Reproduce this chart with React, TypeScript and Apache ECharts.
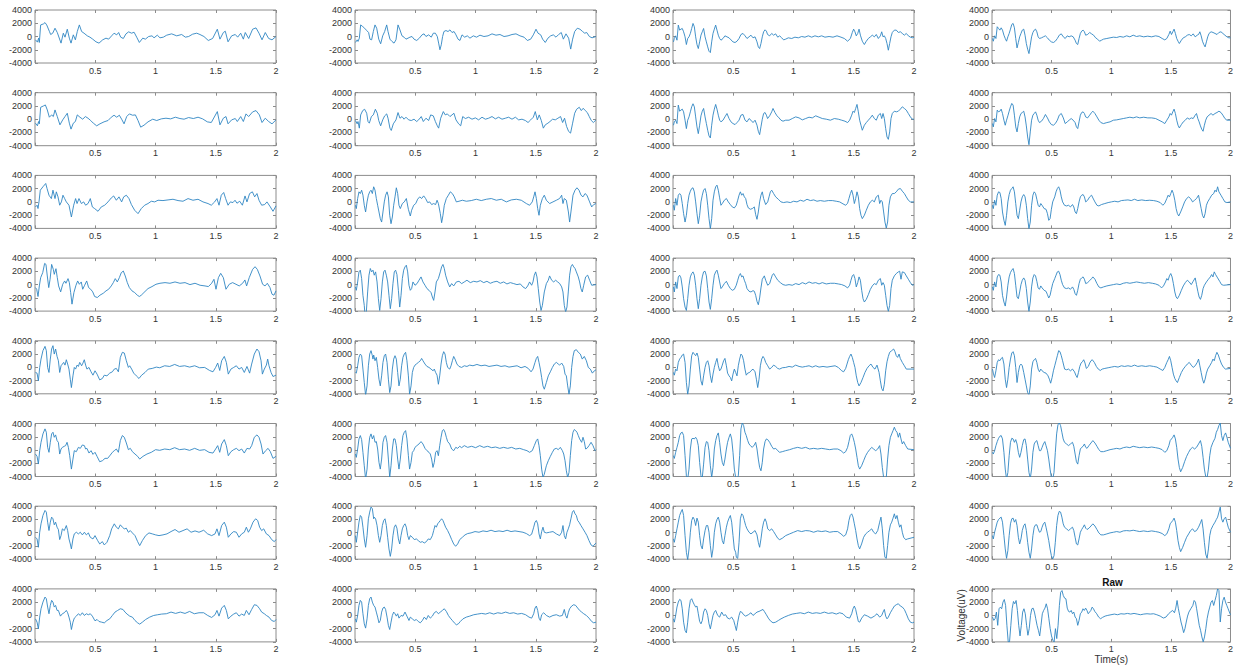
import React, { useEffect, useRef } from "react";
import * as echarts from "echarts";

// Time axis (s) and voltage axis (uV) settings shared by all 32 channels
const timeRange = [0, 2];
const timeStep = 0.5;
const voltRange = [-4000, 4000];
const voltStep = 2000;

// Channels in row-major order (8 rows x 4 columns); each point is [time s, voltage uV]
const sig01 = [[0.004,-500],[0.02,-850],[0.03,-250],[0.036,-900],[0.047,1750],[0.07,1900],[0.083,2100],[0.097,1750],[0.12,750],[0.13,300],[0.147,500],[0.166,1250],[0.185,600],[0.216,-1000],[0.235,500],[0.249,-100],[0.268,1100],[0.285,-250],[0.299,-1000],[0.318,250],[0.335,-500],[0.351,750],[0.368,1750],[0.387,750],[0.407,500],[0.434,100],[0.456,-100],[0.479,-400],[0.506,-800],[0.531,-1000],[0.562,-500],[0.589,-250],[0.611,-400],[0.636,100],[0.656,500],[0.678,250],[0.694,600],[0.711,-100],[0.733,-300],[0.755,400],[0.777,700],[0.802,500],[0.822,650],[0.844,-100],[0.866,-900],[0.894,-250],[0.916,-400],[0.943,0],[0.971,100],[0.988,-200],[1.015,200],[1.037,-200],[1.065,-100],[1.093,200],[1.134,400],[1.176,100],[1.217,300],[1.248,-100],[1.275,0],[1.308,350],[1.342,500],[1.369,300],[1.402,0],[1.438,-600],[1.474,-300],[1.513,1100],[1.535,-400],[1.563,600],[1.579,800],[1.602,-800],[1.632,100],[1.662,300],[1.682,-100],[1.707,500],[1.729,-400],[1.745,600],[1.773,-300],[1.806,1100],[1.834,1300],[1.859,500],[1.884,-500],[1.911,600],[1.939,-300],[1.967,-500],[2.0,0]];
const sig02 = [[0.004,-900],[0.018,-500],[0.025,-750],[0.036,-250],[0.047,1750],[0.064,1500],[0.08,1250],[0.097,900],[0.113,600],[0.124,-400],[0.138,-500],[0.152,750],[0.166,1750],[0.18,1250],[0.197,-400],[0.213,-1100],[0.23,100],[0.246,750],[0.263,1750],[0.274,750],[0.29,-400],[0.307,-750],[0.324,-1000],[0.34,-500],[0.357,1750],[0.373,1000],[0.39,100],[0.407,-100],[0.423,-400],[0.44,-250],[0.456,-100],[0.473,0],[0.49,-400],[0.512,-600],[0.534,-250],[0.556,250],[0.573,400],[0.589,0],[0.611,250],[0.633,-100],[0.65,500],[0.667,500],[0.683,0],[0.694,-1000],[0.705,-2000],[0.716,-1250],[0.727,0],[0.738,750],[0.755,900],[0.772,750],[0.788,1000],[0.805,600],[0.822,750],[0.838,250],[0.855,-400],[0.871,-600],[0.888,250],[0.91,-100],[0.932,100],[0.954,-250],[0.982,100],[1.009,-100],[1.037,200],[1.07,0],[1.104,100],[1.137,400],[1.17,200],[1.203,300],[1.237,0],[1.27,100],[1.303,300],[1.336,400],[1.369,100],[1.403,-100],[1.43,-600],[1.458,-400],[1.48,250],[1.502,1100],[1.519,500],[1.541,250],[1.557,-400],[1.579,-900],[1.601,-250],[1.624,100],[1.646,250],[1.668,-100],[1.69,300],[1.712,600],[1.729,-400],[1.751,400],[1.773,-250],[1.79,-1900],[1.806,-400],[1.823,750],[1.845,1250],[1.867,1100],[1.889,750],[1.906,500],[1.923,600],[1.945,0],[1.967,-200],[2.0,0]];
const sig03 = [[0.004,-810],[0.011,-300],[0.022,100],[0.033,-560],[0.044,1720],[0.055,960],[0.066,1110],[0.077,1210],[0.088,710],[0.1,-50],[0.111,-1210],[0.122,-300],[0.133,-50],[0.144,460],[0.155,1210],[0.166,1970],[0.177,1470],[0.188,-50],[0.199,-1210],[0.21,-1820],[0.221,-810],[0.232,200],[0.243,710],[0.254,1210],[0.266,-50],[0.277,-810],[0.288,-1570],[0.299,-2230],[0.31,-2430],[0.321,-810],[0.332,460],[0.343,1110],[0.354,1720],[0.365,960],[0.376,200],[0.387,-300],[0.398,-560],[0.415,-300],[0.431,100],[0.448,-50],[0.465,-200],[0.481,-510],[0.498,-810],[0.515,-910],[0.531,-710],[0.548,-300],[0.564,300],[0.581,460],[0.598,100],[0.614,-300],[0.631,-50],[0.647,200],[0.664,-200],[0.681,-50],[0.697,-810],[0.708,-1570],[0.719,-1820],[0.73,-1060],[0.741,-50],[0.752,710],[0.764,1010],[0.775,810],[0.785,300],[0.802,100],[0.819,460],[0.835,200],[0.852,400],[0.869,-100],[0.885,100],[0.902,-200],[0.918,-510],[0.935,-400],[0.957,-200],[0.985,-300],[1.012,-100],[1.04,-200],[1.068,0],[1.095,-100],[1.123,100],[1.151,-100],[1.178,100],[1.206,-50],[1.234,100],[1.261,-100],[1.295,0],[1.328,-100],[1.361,100],[1.394,-100],[1.422,-300],[1.449,-710],[1.472,-300],[1.488,610],[1.499,1110],[1.51,710],[1.521,100],[1.533,460],[1.544,1110],[1.555,200],[1.571,-710],[1.588,-1210],[1.604,-710],[1.621,-300],[1.638,-50],[1.654,200],[1.671,-50],[1.687,300],[1.704,-300],[1.721,100],[1.732,710],[1.743,-50],[1.754,100],[1.765,-300],[1.776,-1060],[1.787,-2070],[1.798,-1060],[1.809,-50],[1.82,610],[1.837,960],[1.853,960],[1.87,610],[1.887,710],[1.903,460],[1.92,200],[1.936,460],[1.953,100],[1.97,-100],[1.986,-200],[2.0,-100]];
const sig04 = [[0.004,-300],[0.011,-710],[0.022,100],[0.033,-300],[0.044,1470],[0.055,1210],[0.066,960],[0.077,1310],[0.088,960],[0.1,200],[0.111,-300],[0.122,-710],[0.133,-50],[0.144,460],[0.155,1110],[0.166,1820],[0.177,1970],[0.188,1310],[0.199,-300],[0.21,-1720],[0.221,-910],[0.232,-50],[0.243,460],[0.254,960],[0.266,1110],[0.277,200],[0.288,-1060],[0.299,-1920],[0.31,-2580],[0.321,-1320],[0.332,-50],[0.343,610],[0.354,960],[0.365,1110],[0.376,710],[0.387,-50],[0.398,-300],[0.415,-200],[0.431,-50],[0.448,100],[0.465,-200],[0.481,-560],[0.498,-810],[0.515,-910],[0.531,-710],[0.548,-300],[0.564,200],[0.581,400],[0.598,-50],[0.614,-300],[0.631,100],[0.647,-50],[0.664,100],[0.681,-50],[0.697,-560],[0.708,-1060],[0.719,-1210],[0.73,-300],[0.741,460],[0.752,810],[0.764,960],[0.775,710],[0.785,200],[0.802,300],[0.819,610],[0.835,400],[0.852,200],[0.869,-200],[0.885,-400],[0.902,-710],[0.918,-560],[0.935,-400],[0.963,-300],[0.99,-200],[1.018,-100],[1.046,-150],[1.073,0],[1.101,-100],[1.129,100],[1.156,-50],[1.184,200],[1.212,0],[1.239,100],[1.272,-50],[1.306,50],[1.339,-50],[1.372,100],[1.4,0],[1.427,-300],[1.449,-510],[1.466,-300],[1.483,300],[1.494,810],[1.505,300],[1.516,710],[1.527,1110],[1.538,460],[1.549,-300],[1.56,-710],[1.571,-1060],[1.588,-560],[1.604,-200],[1.621,-50],[1.638,200],[1.654,300],[1.671,100],[1.687,400],[1.704,-50],[1.721,200],[1.732,300],[1.743,710],[1.754,100],[1.765,-710],[1.776,-1210],[1.787,-1570],[1.798,-810],[1.809,-50],[1.82,460],[1.837,710],[1.853,610],[1.87,460],[1.887,300],[1.903,610],[1.92,710],[1.936,460],[1.953,200],[1.97,-50],[1.986,-200],[2.0,-200]];
const sig05 = [[0.004,-600],[0.02,-1000],[0.03,-350],[0.036,-700],[0.047,1800],[0.07,2000],[0.086,2150],[0.102,1400],[0.119,300],[0.138,650],[0.152,400],[0.166,1400],[0.185,400],[0.207,-850],[0.23,-100],[0.249,400],[0.268,900],[0.285,-600],[0.299,-1500],[0.318,-600],[0.335,-350],[0.351,650],[0.373,300],[0.396,0],[0.418,400],[0.44,150],[0.462,-200],[0.484,-600],[0.512,-1000],[0.539,-700],[0.573,-400],[0.606,-200],[0.633,300],[0.656,600],[0.678,300],[0.7,600],[0.722,-100],[0.739,-700],[0.761,400],[0.783,800],[0.81,600],[0.833,650],[0.855,-200],[0.877,-1200],[0.905,-900],[0.938,-400],[0.977,0],[1.01,-200],[1.048,50],[1.087,150],[1.126,50],[1.165,300],[1.203,100],[1.237,0],[1.275,250],[1.314,100],[1.353,300],[1.391,50],[1.43,-400],[1.463,-500],[1.513,1150],[1.535,-850],[1.563,150],[1.585,400],[1.602,-700],[1.632,-100],[1.662,100],[1.679,-350],[1.707,400],[1.729,-350],[1.751,800],[1.773,400],[1.806,1100],[1.834,1300],[1.862,650],[1.884,-500],[1.911,150],[1.939,-350],[1.967,-700],[2.0,-100]];
const sig06 = [[0.004,-200],[0.018,-700],[0.025,-350],[0.036,-1350],[0.047,650],[0.064,1300],[0.08,1500],[0.097,900],[0.108,-350],[0.119,-600],[0.136,400],[0.152,650],[0.169,1500],[0.185,900],[0.197,-200],[0.213,-1000],[0.23,-100],[0.246,500],[0.263,800],[0.274,150],[0.29,-1350],[0.301,-1700],[0.318,-700],[0.34,-100],[0.357,1000],[0.373,150],[0.39,400],[0.407,0],[0.423,300],[0.445,-100],[0.467,-200],[0.49,0],[0.512,-350],[0.528,-100],[0.55,400],[0.567,-350],[0.589,150],[0.611,-200],[0.628,650],[0.65,500],[0.667,-350],[0.683,-1000],[0.694,-1350],[0.711,150],[0.733,1150],[0.749,650],[0.766,800],[0.788,400],[0.805,650],[0.821,900],[0.838,-100],[0.86,-700],[0.877,-1000],[0.894,400],[0.916,100],[0.943,300],[0.971,0],[0.999,200],[1.026,-100],[1.054,300],[1.082,0],[1.109,150],[1.137,400],[1.165,50],[1.192,300],[1.22,0],[1.248,150],[1.275,300],[1.303,0],[1.331,300],[1.358,-100],[1.386,0],[1.414,-200],[1.436,-500],[1.458,-100],[1.48,300],[1.496,1150],[1.513,-100],[1.529,650],[1.546,-200],[1.563,-1350],[1.579,-850],[1.601,-600],[1.618,-350],[1.64,0],[1.662,-100],[1.684,150],[1.706,400],[1.723,-500],[1.739,150],[1.756,-1100],[1.773,-1850],[1.789,-2100],[1.806,-600],[1.823,900],[1.839,1500],[1.861,1800],[1.878,1300],[1.894,1650],[1.911,1300],[1.928,1000],[1.944,400],[1.961,-200],[1.978,-500],[2.0,-100]];
const sig07 = [[0.004,-910],[0.011,-400],[0.022,-150],[0.033,-660],[0.044,2130],[0.055,1210],[0.066,1370],[0.077,1520],[0.088,1110],[0.1,-150],[0.111,-1420],[0.122,-150],[0.133,350],[0.144,1110],[0.155,1870],[0.166,2330],[0.177,1870],[0.188,350],[0.199,-1160],[0.21,-2180],[0.221,-910],[0.232,510],[0.243,1210],[0.254,1620],[0.266,350],[0.277,-660],[0.288,-1670],[0.299,-2530],[0.31,-2830],[0.321,-910],[0.332,610],[0.343,1520],[0.354,2230],[0.365,1520],[0.376,610],[0.387,-150],[0.398,-400],[0.415,-150],[0.431,350],[0.448,860],[0.465,100],[0.481,-400],[0.498,-660],[0.515,-810],[0.531,-510],[0.548,-150],[0.564,610],[0.581,710],[0.598,-150],[0.614,-400],[0.631,100],[0.647,-150],[0.664,-510],[0.681,-150],[0.697,-910],[0.708,-1820],[0.719,-2330],[0.73,-1160],[0.741,0],[0.752,860],[0.764,1010],[0.775,610],[0.785,100],[0.802,510],[0.819,1110],[0.83,1620],[0.846,1010],[0.863,510],[0.88,200],[0.896,-150],[0.913,-300],[0.935,-150],[0.963,-150],[0.99,100],[1.018,350],[1.046,200],[1.073,-100],[1.101,100],[1.129,300],[1.156,200],[1.184,510],[1.212,300],[1.239,100],[1.272,0],[1.306,-150],[1.339,100],[1.372,0],[1.4,-150],[1.427,-300],[1.449,-510],[1.466,-150],[1.483,610],[1.494,1210],[1.505,1010],[1.516,1620],[1.527,2230],[1.538,1110],[1.549,-150],[1.56,-910],[1.571,-1670],[1.588,-910],[1.604,-510],[1.621,-150],[1.638,200],[1.654,610],[1.671,100],[1.687,-150],[1.704,610],[1.721,860],[1.732,100],[1.743,860],[1.754,100],[1.765,-1420],[1.776,-2680],[1.787,-3040],[1.798,-1920],[1.809,100],[1.82,860],[1.837,1210],[1.853,1110],[1.87,1210],[1.887,1520],[1.903,1870],[1.92,1620],[1.936,1370],[1.953,860],[1.97,350],[1.986,0],[2.0,0]];
const sig08 = [[0.004,-660],[0.011,-1160],[0.022,100],[0.033,-400],[0.044,1370],[0.055,1110],[0.066,1210],[0.077,1520],[0.088,860],[0.1,-150],[0.111,-910],[0.122,-150],[0.133,510],[0.144,1210],[0.155,1870],[0.166,2380],[0.177,2130],[0.188,610],[0.199,-1160],[0.21,-1920],[0.221,-660],[0.232,350],[0.243,860],[0.254,1010],[0.266,1210],[0.277,350],[0.288,-1010],[0.299,-2680],[0.31,-3850],[0.321,-1920],[0.332,-150],[0.343,610],[0.354,860],[0.365,1110],[0.376,610],[0.387,-150],[0.398,-510],[0.415,-300],[0.431,100],[0.448,710],[0.465,200],[0.481,-400],[0.498,-810],[0.515,-910],[0.531,-660],[0.548,-150],[0.564,610],[0.581,860],[0.598,200],[0.614,-660],[0.631,-400],[0.647,-150],[0.664,100],[0.681,-150],[0.697,-510],[0.708,-1160],[0.719,-1420],[0.73,-400],[0.741,610],[0.752,1010],[0.764,1110],[0.775,860],[0.785,350],[0.802,200],[0.819,610],[0.835,1010],[0.846,1210],[0.863,860],[0.88,350],[0.896,-150],[0.913,-510],[0.935,-660],[0.963,-510],[0.99,-400],[1.018,-150],[1.046,-100],[1.073,0],[1.101,100],[1.129,200],[1.156,300],[1.184,200],[1.212,350],[1.239,200],[1.272,300],[1.306,200],[1.339,200],[1.372,100],[1.4,-150],[1.427,-400],[1.449,-660],[1.466,-150],[1.483,350],[1.494,860],[1.505,610],[1.516,1110],[1.527,1520],[1.538,860],[1.549,-150],[1.56,-910],[1.571,-1320],[1.588,-810],[1.604,-400],[1.621,-150],[1.638,200],[1.654,0],[1.671,200],[1.687,100],[1.704,610],[1.715,860],[1.726,100],[1.737,-400],[1.748,-1010],[1.759,-1520],[1.77,-1820],[1.781,-910],[1.792,-150],[1.804,350],[1.82,610],[1.837,860],[1.853,610],[1.87,860],[1.887,1010],[1.903,1210],[1.92,1010],[1.936,610],[1.953,100],[1.97,-150],[2.0,-150]];
const sig09 = [[0.004,-760],[0.017,-500],[0.025,-1000],[0.033,0],[0.044,1770],[0.066,2280],[0.089,2780],[0.1,2020],[0.116,1010],[0.136,500],[0.149,1770],[0.166,500],[0.177,1520],[0.191,760],[0.205,-500],[0.219,0],[0.232,1010],[0.246,500],[0.26,0],[0.282,-500],[0.302,-2280],[0.321,-500],[0.337,500],[0.349,-250],[0.365,500],[0.385,-250],[0.404,0],[0.42,-500],[0.44,-250],[0.459,500],[0.476,-760],[0.495,-1010],[0.523,-1420],[0.55,-760],[0.578,-500],[0.606,0],[0.633,600],[0.653,900],[0.675,250],[0.697,760],[0.719,0],[0.736,760],[0.758,1010],[0.78,500],[0.8,-400],[0.827,-1260],[0.855,-1770],[0.882,-1010],[0.91,-500],[0.938,-250],[0.965,100],[0.993,0],[1.021,250],[1.062,200],[1.104,300],[1.145,400],[1.187,200],[1.228,100],[1.27,500],[1.311,250],[1.353,400],[1.394,0],[1.436,-250],[1.463,-500],[1.491,0],[1.51,500],[1.527,-500],[1.546,1010],[1.566,1420],[1.582,500],[1.602,-500],[1.621,0],[1.643,-100],[1.66,250],[1.676,-200],[1.699,100],[1.721,-500],[1.743,900],[1.759,0],[1.781,1260],[1.804,1520],[1.823,760],[1.842,1260],[1.859,250],[1.881,-500],[1.906,-400],[1.925,0],[1.953,-760],[1.975,-1420],[2.0,-600]];
const sig10 = [[0.004,-510],[0.011,-1010],[0.022,510],[0.033,1520],[0.044,1260],[0.055,1770],[0.066,1010],[0.077,-510],[0.088,-1520],[0.1,0],[0.111,1010],[0.122,1520],[0.133,1770],[0.144,1260],[0.155,2280],[0.166,1770],[0.177,510],[0.188,-510],[0.199,-1520],[0.21,-2530],[0.221,-3040],[0.232,-1520],[0.243,0],[0.254,1010],[0.266,1520],[0.277,760],[0.288,-2020],[0.299,-3290],[0.31,-2280],[0.321,-510],[0.332,760],[0.343,2130],[0.354,1260],[0.365,-510],[0.376,-1010],[0.393,-250],[0.409,0],[0.426,510],[0.443,-1120],[0.459,-2130],[0.47,-1260],[0.487,-510],[0.504,-250],[0.52,410],[0.537,760],[0.553,510],[0.57,910],[0.586,510],[0.603,-100],[0.62,0],[0.636,-400],[0.653,-250],[0.669,-400],[0.681,250],[0.692,-250],[0.708,-1770],[0.719,-3140],[0.73,-2020],[0.741,-510],[0.758,510],[0.775,1010],[0.791,1520],[0.808,1260],[0.824,760],[0.841,0],[0.863,100],[0.891,250],[0.924,100],[0.965,200],[1.007,400],[1.048,200],[1.09,400],[1.131,510],[1.173,250],[1.214,400],[1.256,0],[1.297,300],[1.339,400],[1.38,250],[1.422,-250],[1.449,-510],[1.471,0],[1.483,760],[1.494,1520],[1.505,510],[1.516,-1010],[1.527,-2020],[1.538,-510],[1.555,510],[1.571,1010],[1.588,250],[1.615,-250],[1.643,0],[1.671,250],[1.698,510],[1.715,1010],[1.726,-250],[1.737,510],[1.754,250],[1.771,-1520],[1.781,-3040],[1.792,-1520],[1.809,1010],[1.826,1770],[1.842,2130],[1.859,1770],[1.876,1010],[1.892,760],[1.909,1260],[1.925,1010],[1.947,0],[1.964,-760],[1.981,-400],[2.0,-250]];
const sig11 = [[0.004,-510],[0.011,-1260],[0.022,510],[0.033,-510],[0.044,1010],[0.055,1260],[0.066,1010],[0.077,-250],[0.088,-1770],[0.1,-3040],[0.111,-2020],[0.122,-250],[0.133,1010],[0.144,1620],[0.155,2020],[0.166,2130],[0.177,1520],[0.188,0],[0.199,-1770],[0.21,-3290],[0.221,-2020],[0.232,0],[0.243,1010],[0.254,1770],[0.266,2020],[0.277,1260],[0.288,-510],[0.299,-2530],[0.31,-4050],[0.321,-2530],[0.332,250],[0.343,1520],[0.354,2280],[0.365,2530],[0.376,1770],[0.387,610],[0.398,-510],[0.409,-250],[0.426,250],[0.443,510],[0.459,0],[0.476,-400],[0.492,-760],[0.509,-910],[0.525,-510],[0.537,250],[0.548,1010],[0.559,1520],[0.57,1010],[0.581,1260],[0.592,760],[0.603,510],[0.614,-400],[0.625,-910],[0.642,-1110],[0.658,-1010],[0.675,-760],[0.686,-1920],[0.697,-2630],[0.708,-1520],[0.719,0],[0.73,1010],[0.741,1520],[0.752,510],[0.769,-400],[0.786,0],[0.797,760],[0.808,1520],[0.819,1770],[0.835,1260],[0.852,760],[0.874,400],[0.896,0],[0.918,-100],[0.946,0],[0.974,-100],[1.001,100],[1.029,0],[1.057,250],[1.085,100],[1.112,400],[1.14,200],[1.168,300],[1.195,100],[1.223,200],[1.256,100],[1.289,200],[1.322,200],[1.355,100],[1.383,0],[1.411,-300],[1.433,-510],[1.449,-200],[1.46,510],[1.472,1260],[1.483,1770],[1.494,1010],[1.505,-250],[1.516,510],[1.527,1520],[1.538,760],[1.549,-1010],[1.56,-2020],[1.571,-2530],[1.588,-2020],[1.604,-1260],[1.621,-510],[1.638,0],[1.654,250],[1.671,0],[1.687,760],[1.704,1010],[1.715,-250],[1.726,250],[1.737,0],[1.748,-1520],[1.759,-3040],[1.77,-3950],[1.781,-3040],[1.792,-510],[1.804,760],[1.82,1260],[1.837,1260],[1.853,1520],[1.87,1920],[1.887,2020],[1.903,1620],[1.92,1260],[1.936,760],[1.953,250],[1.97,0],[2.0,0]];
const sig12 = [[0.004,-510],[0.011,-1010],[0.022,250],[0.033,-510],[0.044,1010],[0.055,1520],[0.066,1420],[0.077,510],[0.088,-1520],[0.1,-2780],[0.111,-3540],[0.122,-2020],[0.133,0],[0.144,1110],[0.155,1770],[0.166,2020],[0.177,2280],[0.188,1520],[0.199,-250],[0.21,-2020],[0.221,-2530],[0.232,-1260],[0.243,0],[0.254,760],[0.266,1110],[0.277,760],[0.288,-510],[0.299,-2530],[0.31,-4050],[0.321,-3040],[0.332,-510],[0.343,1010],[0.354,1520],[0.365,1260],[0.376,400],[0.387,-510],[0.398,-760],[0.409,-250],[0.42,-510],[0.437,-1010],[0.453,-1110],[0.465,-1770],[0.476,-2780],[0.487,-2530],[0.498,-1110],[0.509,0],[0.526,760],[0.537,1520],[0.548,2020],[0.559,2280],[0.57,1770],[0.581,760],[0.592,0],[0.608,-510],[0.625,-610],[0.642,-510],[0.658,-760],[0.675,-400],[0.686,-760],[0.697,-1520],[0.708,-1770],[0.719,-1010],[0.73,0],[0.741,760],[0.752,1010],[0.764,1110],[0.775,760],[0.786,0],[0.802,250],[0.819,760],[0.835,1010],[0.846,600],[0.863,0],[0.88,-510],[0.896,-610],[0.918,-400],[0.946,-250],[0.974,-100],[1.001,0],[1.029,100],[1.057,0],[1.085,200],[1.112,250],[1.14,300],[1.168,200],[1.195,400],[1.223,200],[1.256,300],[1.289,200],[1.322,250],[1.355,200],[1.383,100],[1.411,-100],[1.433,-510],[1.449,-200],[1.466,510],[1.477,1010],[1.488,760],[1.499,1260],[1.51,1770],[1.521,1260],[1.533,250],[1.544,-1010],[1.555,-1770],[1.566,-2130],[1.582,-1520],[1.599,-760],[1.615,0],[1.632,510],[1.649,760],[1.665,510],[1.682,0],[1.699,250],[1.715,510],[1.732,1010],[1.743,0],[1.754,-1010],[1.765,-2020],[1.776,-2430],[1.787,-1770],[1.798,-510],[1.809,0],[1.826,510],[1.842,1010],[1.859,1260],[1.87,1770],[1.881,1520],[1.892,2280],[1.903,1520],[1.92,1010],[1.936,510],[1.953,0],[1.97,-100],[2.0,0]];
const sig13 = [[0.004,-450],[0.014,-700],[0.025,-1800],[0.036,-200],[0.047,1050],[0.064,1800],[0.08,3200],[0.091,3050],[0.102,1300],[0.114,-450],[0.125,800],[0.138,3050],[0.152,2300],[0.16,1550],[0.174,2400],[0.185,1050],[0.196,-200],[0.213,-1100],[0.23,50],[0.246,550],[0.257,200],[0.274,900],[0.285,300],[0.296,-1200],[0.307,-2950],[0.323,-1200],[0.34,-100],[0.354,550],[0.368,50],[0.384,400],[0.396,-700],[0.412,-100],[0.429,550],[0.445,-450],[0.462,-700],[0.479,-1100],[0.495,-1800],[0.517,-1950],[0.539,-1600],[0.567,-1300],[0.589,-950],[0.611,-700],[0.633,-200],[0.65,300],[0.666,900],[0.683,400],[0.7,1050],[0.716,1800],[0.733,2050],[0.749,1300],[0.766,300],[0.783,-450],[0.805,-950],[0.827,-1200],[0.849,-1600],[0.866,-1800],[0.882,-1600],[0.904,-1200],[0.938,-600],[0.971,-300],[1.004,50],[1.037,200],[1.079,300],[1.12,200],[1.162,400],[1.203,200],[1.245,300],[1.286,0],[1.328,200],[1.37,-100],[1.411,-200],[1.439,-300],[1.466,200],[1.485,800],[1.502,-700],[1.522,1050],[1.541,1700],[1.563,1050],[1.585,-700],[1.612,50],[1.64,300],[1.668,50],[1.695,-200],[1.723,200],[1.742,700],[1.756,-200],[1.778,1050],[1.806,2300],[1.826,2700],[1.845,2300],[1.867,1300],[1.889,50],[1.909,-200],[1.928,200],[1.95,-450],[1.967,-1450],[1.983,-1600],[2.0,-950]];
const sig14 = [[0.004,-350],[0.011,-860],[0.022,400],[0.033,1920],[0.044,2180],[0.055,910],[0.066,-1620],[0.077,-3140],[0.083,-4650],[0.094,-4150],[0.105,-1110],[0.116,1420],[0.127,2430],[0.138,1920],[0.149,2180],[0.16,1420],[0.171,1920],[0.183,400],[0.194,-2130],[0.205,-3900],[0.216,-2130],[0.227,400],[0.238,1920],[0.249,2180],[0.26,1420],[0.271,400],[0.282,-1620],[0.293,-3640],[0.304,-2130],[0.315,150],[0.326,1920],[0.337,2180],[0.348,1520],[0.36,-860],[0.371,-3390],[0.382,-1620],[0.393,910],[0.404,2180],[0.415,2680],[0.426,2930],[0.437,1920],[0.448,-100],[0.459,-860],[0.47,-600],[0.481,400],[0.498,-100],[0.515,150],[0.531,660],[0.548,1160],[0.564,400],[0.581,-100],[0.597,-600],[0.614,-860],[0.631,-1210],[0.642,-1870],[0.653,-2380],[0.664,-1110],[0.675,400],[0.692,910],[0.708,1920],[0.719,2680],[0.73,3040],[0.741,2430],[0.752,1420],[0.769,400],[0.786,-350],[0.802,150],[0.819,-200],[0.841,400],[0.863,500],[0.885,150],[0.907,400],[0.929,660],[0.957,300],[0.985,500],[1.012,400],[1.04,600],[1.068,300],[1.095,500],[1.123,200],[1.151,400],[1.178,500],[1.206,200],[1.234,400],[1.261,100],[1.289,300],[1.317,150],[1.344,0],[1.372,100],[1.394,-350],[1.416,-600],[1.433,-200],[1.449,400],[1.466,-100],[1.477,400],[1.488,1420],[1.499,1920],[1.51,1160],[1.521,-600],[1.533,-2630],[1.544,-3900],[1.555,-3140],[1.571,-1110],[1.588,150],[1.604,660],[1.615,1310],[1.632,660],[1.649,400],[1.665,660],[1.682,400],[1.699,150],[1.715,-350],[1.726,-1110],[1.737,-3140],[1.748,-4150],[1.759,-3390],[1.77,-1110],[1.781,1420],[1.792,2680],[1.804,3040],[1.815,2680],[1.826,2430],[1.837,1920],[1.853,1160],[1.864,400],[1.875,-600],[1.886,-1110],[1.898,-100],[1.914,1160],[1.931,1420],[1.947,660],[1.964,-100],[2.0,0]];
const sig15 = [[0.004,-350],[0.011,-1110],[0.022,400],[0.033,-600],[0.044,1160],[0.055,1420],[0.066,1010],[0.077,-350],[0.088,-2130],[0.1,-3390],[0.111,-3900],[0.122,-2130],[0.133,-100],[0.144,1160],[0.155,1670],[0.166,1920],[0.177,1420],[0.188,-100],[0.199,-2130],[0.21,-3640],[0.221,-2130],[0.232,-100],[0.243,1160],[0.254,1920],[0.266,2020],[0.277,1320],[0.288,-600],[0.299,-2630],[0.31,-3740],[0.321,-2130],[0.332,-100],[0.343,1420],[0.354,1920],[0.365,2180],[0.376,1420],[0.387,400],[0.398,-600],[0.409,-350],[0.426,150],[0.443,500],[0.459,-100],[0.476,-600],[0.492,-860],[0.509,-710],[0.525,-100],[0.537,660],[0.548,1320],[0.559,1670],[0.57,1160],[0.581,1320],[0.592,660],[0.603,150],[0.614,-600],[0.631,-1010],[0.647,-1110],[0.664,-910],[0.675,-1010],[0.686,-1620],[0.697,-2530],[0.708,-3040],[0.719,-2020],[0.73,-500],[0.741,810],[0.758,1320],[0.769,660],[0.786,-100],[0.802,150],[0.813,810],[0.824,1420],[0.835,1670],[0.852,1160],[0.869,660],[0.891,300],[0.913,0],[0.935,-100],[0.963,0],[0.99,-100],[1.018,150],[1.046,0],[1.073,300],[1.101,100],[1.129,400],[1.156,200],[1.184,300],[1.212,100],[1.239,300],[1.272,100],[1.306,200],[1.339,200],[1.372,100],[1.4,0],[1.427,-200],[1.449,-500],[1.466,-100],[1.477,660],[1.488,1320],[1.499,1520],[1.51,910],[1.521,-350],[1.533,300],[1.544,1160],[1.555,660],[1.566,-860],[1.577,-2130],[1.588,-2630],[1.604,-2230],[1.621,-1520],[1.638,-710],[1.654,-200],[1.671,150],[1.687,0],[1.704,660],[1.721,910],[1.732,-100],[1.743,300],[1.754,-100],[1.765,-1620],[1.776,-3140],[1.787,-4050],[1.798,-3140],[1.809,-600],[1.82,660],[1.837,1320],[1.853,1670],[1.87,1920],[1.881,2020],[1.892,810],[1.903,1920],[1.92,1820],[1.936,1320],[1.953,810],[1.97,300],[1.986,-100],[2.0,0]];
const sig16 = [[0.004,-350],[0.011,-860],[0.022,400],[0.033,-350],[0.044,1160],[0.055,1520],[0.066,1420],[0.077,400],[0.088,-1620],[0.1,-2630],[0.111,-3240],[0.122,-1870],[0.133,-100],[0.144,1160],[0.155,1820],[0.166,2180],[0.177,2430],[0.188,1670],[0.199,-100],[0.21,-1870],[0.221,-2130],[0.232,-1110],[0.243,0],[0.254,660],[0.266,1010],[0.277,660],[0.288,-600],[0.299,-2630],[0.31,-4050],[0.321,-2630],[0.332,-350],[0.343,1010],[0.354,1520],[0.365,1320],[0.376,500],[0.387,-500],[0.398,-710],[0.409,-200],[0.42,-500],[0.437,-860],[0.453,-1010],[0.465,-1520],[0.476,-2020],[0.487,-1620],[0.498,-710],[0.509,150],[0.526,910],[0.537,1420],[0.548,1920],[0.559,2020],[0.57,1520],[0.581,660],[0.592,0],[0.608,-500],[0.625,-600],[0.642,-500],[0.658,-710],[0.675,-350],[0.686,-710],[0.697,-1370],[0.708,-1620],[0.719,-860],[0.73,150],[0.741,810],[0.752,1010],[0.764,1160],[0.775,810],[0.786,150],[0.802,300],[0.819,600],[0.835,910],[0.846,1160],[0.863,810],[0.88,150],[0.896,-350],[0.913,-500],[0.935,-350],[0.963,-200],[0.99,-100],[1.018,0],[1.046,100],[1.073,0],[1.101,200],[1.129,300],[1.156,200],[1.184,300],[1.212,400],[1.245,300],[1.278,200],[1.311,300],[1.345,200],[1.372,100],[1.4,-100],[1.422,-500],[1.438,-200],[1.455,400],[1.466,910],[1.477,660],[1.488,1320],[1.499,1670],[1.51,1160],[1.521,150],[1.533,-1110],[1.544,-1870],[1.555,-2130],[1.571,-1620],[1.588,-860],[1.604,-200],[1.621,300],[1.638,660],[1.654,400],[1.671,0],[1.687,500],[1.704,1010],[1.715,0],[1.726,-1010],[1.737,-1870],[1.748,-2230],[1.759,-1620],[1.77,-600],[1.781,-100],[1.798,400],[1.815,810],[1.831,1160],[1.842,1520],[1.853,1160],[1.864,1920],[1.875,1520],[1.892,1010],[1.909,500],[1.925,0],[1.942,-100],[2.0,0]];
const sig17 = [[0.004,-780],[0.017,-880],[0.028,-2050],[0.039,-20],[0.05,1240],[0.066,2510],[0.083,3160],[0.094,2510],[0.105,-20],[0.116,-780],[0.127,1240],[0.138,2760],[0.149,3260],[0.16,2000],[0.171,2760],[0.183,1650],[0.194,990],[0.205,-780],[0.216,230],[0.227,480],[0.238,740],[0.249,330],[0.26,1140],[0.271,490],[0.282,-270],[0.293,-1800],[0.302,-3060],[0.315,-1290],[0.326,-20],[0.337,-270],[0.349,330],[0.36,130],[0.371,740],[0.387,230],[0.398,640],[0.409,1140],[0.42,330],[0.431,-270],[0.448,-20],[0.465,-680],[0.481,-1190],[0.498,-530],[0.515,-1030],[0.537,-1900],[0.559,-1690],[0.575,-1190],[0.597,-1290],[0.62,-880],[0.642,-680],[0.658,-270],[0.675,-170],[0.692,-680],[0.708,1500],[0.725,2260],[0.741,2160],[0.758,990],[0.775,-20],[0.786,230],[0.802,-270],[0.819,-880],[0.841,-1290],[0.863,-1690],[0.885,-1190],[0.913,-780],[0.94,-270],[0.973,-170],[1.007,30],[1.035,-70],[1.076,230],[1.118,130],[1.159,430],[1.2,130],[1.242,230],[1.283,30],[1.325,230],[1.366,-70],[1.408,-20],[1.449,-480],[1.477,-680],[1.499,-20],[1.516,640],[1.533,-480],[1.549,990],[1.571,1640],[1.588,740],[1.604,-1030],[1.626,-270],[1.649,-20],[1.671,230],[1.693,-270],[1.715,-20],[1.737,-780],[1.759,130],[1.781,-880],[1.798,490],[1.82,2000],[1.842,2760],[1.859,2360],[1.876,990],[1.887,-1030],[1.903,-270],[1.92,330],[1.931,1240],[1.942,230],[1.959,-780],[1.975,-1390],[2.0,-1190]];
const sig18 = [[0.004,-780],[0.011,-880],[0.022,230],[0.033,1500],[0.044,2000],[0.055,1750],[0.066,-270],[0.077,-2300],[0.088,-4230],[0.1,-2810],[0.111,230],[0.122,2000],[0.133,2510],[0.144,1750],[0.149,1240],[0.155,1850],[0.166,990],[0.177,1500],[0.188,-20],[0.199,-1790],[0.21,-2810],[0.221,-1290],[0.232,740],[0.243,1750],[0.254,2000],[0.266,740],[0.277,-1790],[0.288,-3820],[0.299,-2810],[0.31,-270],[0.321,1240],[0.332,1750],[0.343,1240],[0.354,-780],[0.365,-2810],[0.376,-1790],[0.387,230],[0.398,1500],[0.409,2000],[0.42,2260],[0.431,990],[0.443,-1290],[0.453,-4080],[0.465,-2810],[0.476,-780],[0.487,-20],[0.498,330],[0.509,490],[0.526,740],[0.542,990],[0.553,1340],[0.564,990],[0.581,490],[0.597,130],[0.614,-20],[0.631,-270],[0.648,-530],[0.658,-270],[0.669,-780],[0.681,-1190],[0.692,-2560],[0.703,-1290],[0.714,490],[0.725,1750],[0.736,2360],[0.747,2000],[0.758,740],[0.769,-20],[0.786,-270],[0.797,230],[0.808,990],[0.819,1640],[0.83,1240],[0.846,490],[0.863,130],[0.885,-20],[0.907,230],[0.929,130],[0.952,330],[0.979,230],[1.012,430],[1.046,230],[1.079,330],[1.112,130],[1.145,230],[1.178,330],[1.212,130],[1.245,230],[1.278,30],[1.311,130],[1.345,230],[1.378,-70],[1.411,130],[1.438,-170],[1.461,-680],[1.477,-270],[1.494,740],[1.505,1340],[1.516,1640],[1.527,740],[1.538,-270],[1.549,-1540],[1.56,-2810],[1.571,-3310],[1.588,-2300],[1.604,-1290],[1.621,-680],[1.638,-20],[1.654,490],[1.671,740],[1.687,490],[1.698,330],[1.715,640],[1.732,130],[1.743,-1030],[1.754,-1290],[1.765,-2810],[1.776,-4080],[1.787,-2810],[1.798,-20],[1.809,1640],[1.82,2510],[1.837,2660],[1.853,2260],[1.87,2000],[1.886,1240],[1.903,1640],[1.92,990],[1.936,-20],[1.953,-270],[1.97,-880],[1.986,-530],[2.0,-380]];
const sig19 = [[0.004,-780],[0.011,-1190],[0.022,-270],[0.033,-530],[0.044,740],[0.055,1240],[0.066,1500],[0.077,1850],[0.088,2000],[0.1,740],[0.111,-2300],[0.122,-4080],[0.133,-2810],[0.144,-270],[0.155,1750],[0.166,2260],[0.177,2000],[0.188,1750],[0.199,2160],[0.21,1500],[0.221,-270],[0.232,-2050],[0.243,-2700],[0.254,-1290],[0.266,-20],[0.277,740],[0.288,990],[0.299,230],[0.31,-1290],[0.321,-2300],[0.332,-1030],[0.343,-20],[0.354,740],[0.365,1340],[0.376,230],[0.387,-530],[0.398,-270],[0.409,330],[0.42,990],[0.431,1340],[0.443,230],[0.453,-880],[0.465,-1290],[0.476,-1540],[0.487,-2050],[0.498,-1030],[0.509,-270],[0.52,-780],[0.531,-1290],[0.542,230],[0.553,1240],[0.564,2000],[0.575,1750],[0.586,990],[0.597,-270],[0.608,-1190],[0.62,-880],[0.636,-780],[0.647,-530],[0.664,-270],[0.681,-680],[0.692,-1790],[0.703,-3060],[0.714,-1790],[0.725,230],[0.736,1240],[0.747,1640],[0.758,1340],[0.769,740],[0.786,230],[0.802,-270],[0.819,-20],[0.835,330],[0.852,130],[0.869,-170],[0.885,-270],[0.907,-70],[0.935,-20],[0.963,130],[0.99,30],[1.018,330],[1.046,130],[1.073,30],[1.101,130],[1.129,230],[1.156,30],[1.184,230],[1.212,30],[1.245,130],[1.278,30],[1.311,130],[1.345,230],[1.372,-20],[1.4,-530],[1.416,-680],[1.433,-170],[1.444,490],[1.455,1140],[1.466,1640],[1.477,2000],[1.488,1500],[1.499,740],[1.51,-20],[1.521,-1290],[1.533,-2300],[1.544,-2810],[1.56,-2300],[1.577,-1540],[1.593,-780],[1.61,-170],[1.627,230],[1.643,490],[1.66,-20],[1.676,-270],[1.693,330],[1.71,-780],[1.721,-2050],[1.732,-3210],[1.743,-3560],[1.754,-2560],[1.765,-530],[1.776,830],[1.787,1640],[1.798,2260],[1.815,2510],[1.831,2760],[1.842,2360],[1.853,1750],[1.864,1500],[1.876,2000],[1.886,1340],[1.903,740],[1.92,230],[1.936,-270],[2.0,-270]];
const sig20 = [[0.004,-270],[0.011,-880],[0.022,-1540],[0.033,-530],[0.044,740],[0.055,1140],[0.066,990],[0.077,1340],[0.088,1500],[0.1,490],[0.111,-1790],[0.122,-3060],[0.133,-1790],[0.144,-20],[0.155,1240],[0.166,2160],[0.177,2360],[0.188,1750],[0.199,-20],[0.21,-2300],[0.221,-780],[0.232,230],[0.243,490],[0.254,230],[0.266,-780],[0.277,-1790],[0.288,-2810],[0.299,-3820],[0.31,-4230],[0.321,-2810],[0.332,-270],[0.343,840],[0.354,1140],[0.365,1340],[0.376,740],[0.387,-270],[0.398,-680],[0.409,-270],[0.42,-530],[0.437,-780],[0.453,-880],[0.47,-1290],[0.481,-1790],[0.492,-2400],[0.504,-1540],[0.515,-530],[0.526,230],[0.537,990],[0.548,1750],[0.559,2510],[0.57,2360],[0.581,1750],[0.592,990],[0.609,-270],[0.625,-370],[0.642,-270],[0.658,-530],[0.675,-270],[0.692,-680],[0.703,-1190],[0.714,-1540],[0.725,-780],[0.736,130],[0.747,640],[0.758,840],[0.769,1140],[0.78,640],[0.791,-170],[0.808,130],[0.819,640],[0.83,990],[0.841,1140],[0.858,740],[0.875,130],[0.891,-270],[0.908,-480],[0.924,-270],[0.946,-170],[0.974,-70],[1.001,30],[1.029,130],[1.057,30],[1.085,230],[1.112,130],[1.14,230],[1.168,130],[1.195,330],[1.223,130],[1.256,230],[1.289,130],[1.322,230],[1.355,130],[1.383,30],[1.411,-270],[1.433,-480],[1.449,-20],[1.466,740],[1.477,1140],[1.488,1640],[1.499,990],[1.51,-20],[1.521,-1030],[1.533,-1690],[1.544,-2050],[1.555,-2300],[1.571,-1540],[1.588,-780],[1.604,-270],[1.621,130],[1.638,490],[1.654,740],[1.671,330],[1.687,-20],[1.704,230],[1.721,740],[1.732,1240],[1.743,230],[1.754,-780],[1.765,-1790],[1.776,-2400],[1.787,-1790],[1.798,-880],[1.809,-270],[1.826,230],[1.842,740],[1.853,1240],[1.864,990],[1.875,1750],[1.886,2260],[1.898,1850],[1.909,1240],[1.925,490],[1.942,-20],[1.958,-270],[2.0,-170]];
const sig21 = [[0.004,-610],[0.017,-960],[0.028,-2120],[0.039,-100],[0.05,1160],[0.066,2430],[0.083,3190],[0.094,2680],[0.105,400],[0.116,-350],[0.127,1160],[0.138,2430],[0.149,2680],[0.16,1920],[0.171,2280],[0.183,1420],[0.194,1160],[0.205,-610],[0.216,150],[0.227,400],[0.243,560],[0.254,660],[0.266,1160],[0.277,400],[0.288,-860],[0.302,-2880],[0.315,-1370],[0.326,-100],[0.343,-250],[0.36,400],[0.376,250],[0.393,760],[0.41,660],[0.42,150],[0.431,250],[0.448,-460],[0.465,-100],[0.481,-660],[0.498,-350],[0.515,-960],[0.537,-1770],[0.559,-1620],[0.581,-1260],[0.603,-1260],[0.625,-760],[0.642,-350],[0.658,-100],[0.675,150],[0.692,-350],[0.708,1420],[0.725,2180],[0.741,1920],[0.758,1060],[0.775,50],[0.791,250],[0.808,-250],[0.83,-610],[0.852,-960],[0.869,-1370],[0.896,-960],[0.929,-610],[0.965,-350],[1.001,50],[1.035,-50],[1.076,150],[1.118,50],[1.159,350],[1.2,50],[1.242,150],[1.283,-50],[1.325,250],[1.366,-50],[1.408,50],[1.444,-350],[1.477,-460],[1.499,150],[1.516,660],[1.533,-350],[1.549,910],[1.571,1570],[1.588,660],[1.604,-860],[1.626,-250],[1.649,50],[1.671,250],[1.693,-100],[1.715,150],[1.737,-460],[1.759,250],[1.781,150],[1.798,660],[1.82,1920],[1.842,2280],[1.859,1920],[1.876,910],[1.892,-610],[1.914,-100],[1.934,250],[1.953,-250],[1.975,-1260],[2.0,-960]];
const sig22 = [[0.004,-610],[0.011,-1110],[0.022,150],[0.033,1670],[0.044,2180],[0.055,1570],[0.066,-350],[0.077,-2380],[0.088,-4400],[0.1,-2880],[0.111,150],[0.122,1920],[0.133,2430],[0.144,1670],[0.155,2180],[0.166,1160],[0.177,1270],[0.188,150],[0.199,-1870],[0.21,-2880],[0.221,-1370],[0.232,1160],[0.243,1920],[0.254,2180],[0.266,1160],[0.277,-1370],[0.288,-4150],[0.299,-2380],[0.31,150],[0.321,1670],[0.332,1670],[0.343,660],[0.354,-1370],[0.365,-2880],[0.376,-1370],[0.387,660],[0.398,2180],[0.409,2680],[0.42,2930],[0.431,1670],[0.443,-860],[0.453,-2880],[0.465,-1870],[0.476,-350],[0.487,-100],[0.498,400],[0.514,660],[0.531,910],[0.548,1270],[0.564,910],[0.581,250],[0.597,-100],[0.614,-350],[0.625,-610],[0.636,-1370],[0.647,-2630],[0.658,-1870],[0.669,-350],[0.681,-100],[0.692,-860],[0.703,660],[0.714,1920],[0.725,2930],[0.736,3090],[0.747,2680],[0.758,1920],[0.769,1270],[0.786,910],[0.802,150],[0.819,-100],[0.836,400],[0.852,250],[0.869,560],[0.885,350],[0.907,660],[0.935,400],[0.968,560],[1.001,350],[1.035,660],[1.068,400],[1.101,560],[1.134,350],[1.167,450],[1.201,250],[1.234,400],[1.267,250],[1.3,400],[1.334,150],[1.367,250],[1.4,50],[1.427,-100],[1.449,-350],[1.471,-100],[1.488,660],[1.505,1420],[1.516,1670],[1.527,660],[1.538,-860],[1.549,-2880],[1.56,-4150],[1.571,-3640],[1.588,-2380],[1.604,-1620],[1.621,-960],[1.638,-350],[1.654,150],[1.671,250],[1.687,50],[1.704,400],[1.721,-100],[1.732,-610],[1.743,-1620],[1.754,-3140],[1.765,-4150],[1.776,-3390],[1.787,-860],[1.798,1420],[1.809,2680],[1.82,3090],[1.831,2930],[1.842,2680],[1.853,2180],[1.864,1670],[1.881,1160],[1.892,1920],[1.903,1270],[1.914,150],[1.925,250],[1.942,660],[1.959,1160],[1.975,660],[1.992,-100],[2.0,50]];
const sig23 = [[0.004,-860],[0.011,-1270],[0.022,-350],[0.033,400],[0.044,1160],[0.055,2180],[0.066,2580],[0.077,2680],[0.088,2180],[0.1,-860],[0.111,-3900],[0.122,-4400],[0.133,-2880],[0.144,150],[0.155,1670],[0.166,1770],[0.177,1670],[0.188,1920],[0.199,1570],[0.21,660],[0.221,-1870],[0.232,-3900],[0.243,-4150],[0.254,-2130],[0.266,400],[0.277,1270],[0.288,1160],[0.299,-100],[0.31,-2380],[0.321,-4150],[0.332,-2630],[0.343,150],[0.354,1420],[0.365,2180],[0.376,2580],[0.387,1160],[0.398,-610],[0.409,-1870],[0.42,-2380],[0.431,-1370],[0.443,150],[0.453,1160],[0.465,1920],[0.476,2430],[0.487,1670],[0.498,-350],[0.509,-2880],[0.52,-4150],[0.531,-4400],[0.542,-3900],[0.553,-860],[0.564,3190],[0.575,4100],[0.586,3690],[0.597,2680],[0.608,2180],[0.62,1420],[0.631,910],[0.642,660],[0.658,400],[0.675,760],[0.686,1160],[0.697,150],[0.708,-1370],[0.719,-2630],[0.73,-3140],[0.741,-1870],[0.752,150],[0.764,1270],[0.775,1670],[0.786,1570],[0.802,1160],[0.819,560],[0.835,150],[0.852,250],[0.869,-100],[0.885,-350],[0.907,-250],[0.935,-100],[0.968,50],[1.001,250],[1.035,400],[1.068,250],[1.101,400],[1.134,150],[1.167,250],[1.201,150],[1.234,250],[1.267,150],[1.3,50],[1.334,150],[1.367,150],[1.394,-100],[1.416,-460],[1.433,-250],[1.449,400],[1.46,1270],[1.471,2180],[1.483,2430],[1.494,1920],[1.505,1160],[1.516,150],[1.527,-1110],[1.538,-2380],[1.549,-2880],[1.565,-2380],[1.582,-1620],[1.599,-860],[1.615,-350],[1.632,50],[1.649,400],[1.665,150],[1.682,-100],[1.699,150],[1.715,660],[1.726,-610],[1.737,-2630],[1.748,-4150],[1.759,-4400],[1.77,-4150],[1.781,-1370],[1.792,660],[1.804,1920],[1.815,2430],[1.826,2930],[1.837,3440],[1.848,2930],[1.859,2680],[1.87,1920],[1.881,2580],[1.892,1670],[1.903,910],[1.914,1270],[1.931,660],[1.948,150],[2.0,50]];
const sig24 = [[0.004,-350],[0.011,-610],[0.022,-100],[0.033,660],[0.044,1270],[0.055,1770],[0.066,2080],[0.077,2180],[0.088,1670],[0.1,-350],[0.111,-2880],[0.122,-4400],[0.133,-3390],[0.144,-860],[0.155,1160],[0.166,1770],[0.177,1670],[0.188,1160],[0.199,1570],[0.21,910],[0.221,-350],[0.232,-1110],[0.243,-350],[0.254,660],[0.266,1570],[0.277,1670],[0.288,660],[0.299,-1370],[0.31,-3390],[0.321,-4300],[0.332,-2880],[0.343,-350],[0.354,910],[0.365,1270],[0.376,1420],[0.387,660],[0.398,-100],[0.409,-100],[0.42,400],[0.431,910],[0.443,1270],[0.453,660],[0.465,-100],[0.476,-1370],[0.487,-2880],[0.498,-4150],[0.509,-4400],[0.52,-3390],[0.531,-350],[0.542,2430],[0.553,3800],[0.564,4100],[0.575,3690],[0.586,2680],[0.597,1670],[0.608,1160],[0.625,910],[0.642,660],[0.658,910],[0.675,1160],[0.686,560],[0.697,-610],[0.708,-1770],[0.719,-2130],[0.73,-860],[0.741,150],[0.752,400],[0.764,560],[0.775,910],[0.786,400],[0.797,250],[0.813,660],[0.83,1060],[0.846,1420],[0.863,1060],[0.88,560],[0.896,50],[0.913,-250],[0.935,-250],[0.963,-100],[0.99,50],[1.018,150],[1.046,250],[1.073,150],[1.101,350],[1.129,450],[1.156,350],[1.184,560],[1.212,450],[1.239,350],[1.272,450],[1.306,350],[1.339,450],[1.372,350],[1.4,250],[1.427,50],[1.449,-350],[1.466,-100],[1.483,660],[1.494,1420],[1.505,1670],[1.516,1920],[1.527,2280],[1.538,1670],[1.549,400],[1.56,-1370],[1.571,-2630],[1.582,-3290],[1.599,-2630],[1.615,-1770],[1.632,-960],[1.649,-350],[1.665,150],[1.682,400],[1.699,150],[1.715,400],[1.732,910],[1.748,1420],[1.759,560],[1.77,-1110],[1.781,-2880],[1.792,-3990],[1.804,-4150],[1.815,-2880],[1.826,-860],[1.837,400],[1.853,1160],[1.87,1770],[1.881,2680],[1.892,3090],[1.903,3690],[1.914,4100],[1.925,2180],[1.936,1420],[1.947,2180],[1.959,2580],[1.97,1920],[1.981,1160],[2.0,250]];
const sig25 = [[0.004,-690],[0.017,-940],[0.028,-2200],[0.039,70],[0.05,1340],[0.066,2600],[0.083,3360],[0.094,3110],[0.105,1590],[0.116,330],[0.127,1590],[0.138,2350],[0.149,2100],[0.16,1190],[0.171,1590],[0.183,830],[0.194,480],[0.205,-1040],[0.216,-440],[0.227,580],[0.243,320],[0.26,1080],[0.271,320],[0.282,-940],[0.293,-1700],[0.302,-2450],[0.315,-940],[0.326,-180],[0.343,70],[0.36,-180],[0.376,70],[0.393,-330],[0.41,70],[0.426,-330],[0.443,-30],[0.459,-690],[0.481,-940],[0.498,-440],[0.52,-1190],[0.537,-1700],[0.559,-1350],[0.575,-1850],[0.597,-1450],[0.62,-440],[0.636,580],[0.658,1340],[0.675,830],[0.692,580],[0.708,1190],[0.725,830],[0.741,580],[0.758,680],[0.775,70],[0.791,320],[0.808,-30],[0.83,-440],[0.852,-1350],[0.869,-1950],[0.891,-1190],[0.918,-440],[0.946,-30],[0.974,-180],[1.001,-330],[1.029,-440],[1.062,-330],[1.095,-180],[1.129,170],[1.162,480],[1.195,70],[1.228,320],[1.262,580],[1.295,70],[1.328,270],[1.361,70],[1.4,370],[1.433,-180],[1.466,-440],[1.494,-180],[1.51,580],[1.527,-440],[1.549,1080],[1.571,1590],[1.588,830],[1.604,-690],[1.626,-180],[1.649,170],[1.671,70],[1.693,-690],[1.715,-180],[1.737,70],[1.754,830],[1.771,70],[1.787,580],[1.809,1590],[1.831,2100],[1.848,1840],[1.864,830],[1.881,320],[1.898,580],[1.92,-180],[1.942,-440],[1.964,-1040],[1.986,-1350],[2.0,-1040]];
const sig26 = [[0.004,-440],[0.011,-1450],[0.022,70],[0.033,1590],[0.044,2600],[0.055,2350],[0.066,830],[0.077,-940],[0.088,-2200],[0.1,-440],[0.111,2100],[0.122,3110],[0.133,3870],[0.144,3620],[0.155,2100],[0.16,2350],[0.171,2100],[0.183,1080],[0.194,-440],[0.205,-1450],[0.216,-440],[0.227,1080],[0.238,1840],[0.249,2100],[0.26,1080],[0.271,-690],[0.282,-2450],[0.293,-3570],[0.304,-2450],[0.315,-440],[0.326,830],[0.337,1190],[0.348,680],[0.36,-940],[0.371,-1700],[0.382,-440],[0.393,580],[0.404,1080],[0.415,1340],[0.426,830],[0.437,-440],[0.448,-1040],[0.459,-440],[0.476,-690],[0.492,-1040],[0.509,-940],[0.525,-1190],[0.542,-1450],[0.559,-1350],[0.575,-1550],[0.592,-1350],[0.608,-940],[0.625,-1040],[0.642,-440],[0.653,320],[0.664,1080],[0.675,830],[0.686,1340],[0.697,1590],[0.708,1840],[0.719,2100],[0.73,1840],[0.741,1340],[0.752,830],[0.769,320],[0.786,-330],[0.802,-1040],[0.819,-1700],[0.835,-2050],[0.852,-1700],[0.869,-1040],[0.891,-690],[0.913,-330],[0.935,-130],[0.963,-30],[0.996,170],[1.029,70],[1.062,270],[1.095,170],[1.129,370],[1.162,170],[1.195,270],[1.228,170],[1.262,370],[1.295,170],[1.328,270],[1.361,170],[1.394,70],[1.422,-130],[1.449,-440],[1.466,-230],[1.483,830],[1.494,1590],[1.505,1840],[1.516,1340],[1.527,-180],[1.538,-940],[1.549,170],[1.56,830],[1.571,70],[1.588,-30],[1.615,70],[1.643,170],[1.671,-180],[1.698,-440],[1.715,70],[1.726,1080],[1.737,-440],[1.748,-940],[1.759,70],[1.77,580],[1.781,1190],[1.792,2100],[1.804,3110],[1.815,3360],[1.826,2850],[1.837,2600],[1.848,1840],[1.859,1590],[1.875,1080],[1.892,580],[1.909,70],[1.925,-440],[1.942,-1190],[1.959,-1850],[1.975,-2050],[1.992,-1700],[2.0,-1550]];
const sig27 = [[0.004,-940],[0.011,-1450],[0.022,-440],[0.033,580],[0.044,1590],[0.055,2600],[0.066,3110],[0.077,3510],[0.088,2600],[0.1,-440],[0.111,-2960],[0.122,-4080],[0.133,-2450],[0.144,70],[0.155,1840],[0.166,2350],[0.177,1990],[0.188,1080],[0.199,2200],[0.21,1590],[0.221,-440],[0.232,-1950],[0.243,-2450],[0.254,-940],[0.266,320],[0.277,1080],[0.288,1080],[0.299,70],[0.31,-1950],[0.321,-3720],[0.332,-2450],[0.343,70],[0.354,1340],[0.365,2000],[0.376,2350],[0.387,1590],[0.398,70],[0.409,-1200],[0.42,-1700],[0.431,-440],[0.443,830],[0.453,1590],[0.465,2200],[0.476,2600],[0.487,1590],[0.498,-440],[0.509,-2450],[0.52,-2960],[0.526,-3720],[0.537,-3870],[0.548,-1450],[0.559,2100],[0.57,2850],[0.581,2600],[0.592,1840],[0.603,1080],[0.614,580],[0.631,70],[0.647,-180],[0.664,70],[0.681,320],[0.697,-330],[0.708,-1450],[0.719,-2200],[0.73,-940],[0.741,580],[0.752,1590],[0.764,2100],[0.775,1590],[0.786,580],[0.802,320],[0.819,580],[0.835,170],[0.852,-330],[0.869,-840],[0.885,-1050],[0.907,-840],[0.935,-440],[0.968,-180],[1.001,70],[1.035,320],[1.068,170],[1.101,320],[1.134,270],[1.167,70],[1.201,270],[1.234,170],[1.267,270],[1.3,70],[1.334,170],[1.367,170],[1.394,-180],[1.416,-540],[1.433,-330],[1.449,580],[1.46,1840],[1.471,2600],[1.483,2850],[1.494,2350],[1.505,1340],[1.516,320],[1.527,-940],[1.538,-1950],[1.549,-2450],[1.565,-1700],[1.582,-690],[1.599,-180],[1.615,70],[1.632,320],[1.649,580],[1.665,70],[1.682,-180],[1.699,320],[1.715,1590],[1.726,2350],[1.737,580],[1.748,-1950],[1.759,-3720],[1.77,-3870],[1.781,-1950],[1.792,70],[1.804,1190],[1.815,1590],[1.826,2200],[1.837,2850],[1.848,2100],[1.859,2600],[1.87,1590],[1.881,830],[1.892,1190],[1.903,70],[1.914,-690],[1.931,-1050],[1.947,-940],[2.0,-690]];
const sig28 = [[0.004,-440],[0.011,-940],[0.022,70],[0.033,830],[0.044,1590],[0.055,1990],[0.066,2200],[0.077,2350],[0.088,1590],[0.1,-440],[0.111,-2450],[0.122,-3870],[0.133,-2710],[0.144,-440],[0.155,1340],[0.166,2100],[0.177,2200],[0.188,1590],[0.199,1990],[0.21,1080],[0.221,-690],[0.232,-1700],[0.243,-940],[0.254,330],[0.266,1080],[0.277,1340],[0.288,330],[0.299,-1450],[0.31,-2960],[0.321,-3870],[0.332,-2450],[0.343,-440],[0.354,830],[0.365,1190],[0.376,1190],[0.387,580],[0.398,70],[0.409,170],[0.42,830],[0.431,1340],[0.443,1590],[0.453,830],[0.465,-180],[0.476,-1200],[0.487,-2450],[0.498,-3470],[0.509,-3970],[0.52,-3470],[0.531,-1450],[0.542,1080],[0.553,2600],[0.564,3220],[0.575,3110],[0.586,2350],[0.597,1340],[0.608,830],[0.625,580],[0.642,320],[0.658,580],[0.675,830],[0.686,320],[0.697,-690],[0.708,-1700],[0.719,-1850],[0.73,-940],[0.741,70],[0.752,480],[0.764,830],[0.775,1190],[0.786,680],[0.797,480],[0.813,680],[0.83,1010],[0.846,1340],[0.863,1010],[0.88,480],[0.896,-30],[0.913,-330],[0.935,-330],[0.963,-180],[0.99,-30],[1.018,70],[1.046,170],[1.073,70],[1.101,270],[1.129,320],[1.156,270],[1.184,370],[1.212,270],[1.239,170],[1.272,270],[1.306,170],[1.339,270],[1.372,170],[1.4,70],[1.427,-130],[1.449,-440],[1.466,-180],[1.483,580],[1.494,1340],[1.505,1590],[1.516,1840],[1.527,2200],[1.538,1590],[1.549,320],[1.56,-1200],[1.571,-2210],[1.582,-2860],[1.599,-2210],[1.615,-1450],[1.632,-690],[1.649,-180],[1.665,320],[1.682,580],[1.699,170],[1.715,320],[1.732,830],[1.748,1490],[1.759,1990],[1.77,580],[1.781,-1450],[1.792,-3220],[1.804,-3870],[1.815,-2450],[1.826,-440],[1.837,480],[1.853,1080],[1.87,1590],[1.881,1990],[1.892,2350],[1.903,3110],[1.914,3870],[1.925,2100],[1.936,1590],[1.947,2100],[1.959,2350],[1.97,1590],[1.981,830],[2.0,70]];
const sig29 = [[0.004,-520],[0.017,-1020],[0.028,-2030],[0.039,-260],[0.05,1000],[0.066,2010],[0.083,2770],[0.094,2520],[0.105,1260],[0.116,250],[0.127,1510],[0.138,2270],[0.149,2010],[0.16,1260],[0.171,1510],[0.183,750],[0.194,750],[0.211,-110],[0.227,250],[0.243,400],[0.26,750],[0.271,400],[0.282,-260],[0.293,-1020],[0.302,-2130],[0.315,-1020],[0.326,-410],[0.343,-110],[0.36,250],[0.376,-10],[0.393,400],[0.41,-10],[0.426,250],[0.443,100],[0.459,250],[0.476,-110],[0.498,-820],[0.515,-610],[0.531,-920],[0.553,-1020],[0.575,-1130],[0.597,-770],[0.62,-520],[0.642,-10],[0.664,500],[0.686,750],[0.708,1000],[0.73,900],[0.747,500],[0.764,200],[0.786,-110],[0.808,-260],[0.83,-770],[0.852,-1130],[0.869,-1320],[0.891,-1020],[0.918,-620],[0.952,-260],[0.985,-10],[1.018,100],[1.051,200],[1.09,250],[1.129,500],[1.167,300],[1.206,500],[1.245,300],[1.283,600],[1.322,250],[1.361,400],[1.4,400],[1.433,-10],[1.466,-310],[1.494,100],[1.51,750],[1.527,-110],[1.549,1100],[1.571,1510],[1.588,750],[1.604,-520],[1.626,-110],[1.649,200],[1.671,400],[1.693,-110],[1.715,200],[1.737,-10],[1.754,750],[1.776,100],[1.798,900],[1.82,1610],[1.842,1510],[1.864,1000],[1.881,500],[1.903,250],[1.92,-10],[1.942,-260],[1.964,-770],[1.986,-920],[2.0,-620]];
const sig30 = [[0.004,-520],[0.011,-1020],[0.022,-10],[0.033,1510],[0.044,2270],[0.055,2010],[0.066,250],[0.077,-1270],[0.088,-1920],[0.1,-520],[0.111,1510],[0.122,2520],[0.133,2770],[0.144,2010],[0.155,1510],[0.166,1260],[0.177,500],[0.188,-260],[0.199,-1120],[0.21,-770],[0.221,500],[0.232,1110],[0.243,1260],[0.254,900],[0.266,-260],[0.277,-1520],[0.288,-2130],[0.299,-1020],[0.31,-10],[0.321,500],[0.332,250],[0.343,-110],[0.354,250],[0.365,-410],[0.382,-10],[0.398,-110],[0.415,500],[0.431,-110],[0.448,-770],[0.459,-260],[0.476,-520],[0.492,-770],[0.509,-620],[0.525,-920],[0.542,-1120],[0.559,-770],[0.575,-260],[0.592,-620],[0.608,-10],[0.625,-410],[0.642,-110],[0.658,400],[0.675,600],[0.692,250],[0.708,500],[0.725,750],[0.741,1000],[0.758,600],[0.775,-10],[0.791,-410],[0.808,-770],[0.824,-1120],[0.841,-1420],[0.858,-1270],[0.874,-920],[0.896,-520],[0.924,-260],[0.952,-110],[0.985,100],[1.018,200],[1.051,300],[1.084,200],[1.118,400],[1.151,200],[1.184,400],[1.217,300],[1.25,500],[1.284,300],[1.317,400],[1.35,200],[1.383,300],[1.416,100],[1.444,-260],[1.466,-410],[1.483,250],[1.494,1110],[1.505,1410],[1.516,750],[1.527,-410],[1.538,-770],[1.549,100],[1.566,400],[1.588,-10],[1.615,-260],[1.643,-10],[1.671,100],[1.699,-110],[1.721,-10],[1.737,900],[1.748,-10],[1.759,-410],[1.77,400],[1.781,1000],[1.798,1410],[1.815,1610],[1.831,1510],[1.848,1110],[1.864,750],[1.881,500],[1.898,250],[1.92,-10],[1.942,-410],[1.964,-920],[1.981,-1120],[2.0,-1020]];
const sig31 = [[0.004,-520],[0.011,-1020],[0.022,-10],[0.033,1260],[0.044,2010],[0.055,2420],[0.066,2270],[0.077,1000],[0.088,-1020],[0.1,-2270],[0.111,-2630],[0.122,-1020],[0.133,1000],[0.144,2270],[0.155,2520],[0.166,2010],[0.177,1610],[0.188,1260],[0.199,1410],[0.21,250],[0.221,-920],[0.232,-1270],[0.243,-770],[0.254,500],[0.266,1000],[0.277,750],[0.288,-10],[0.299,-1270],[0.31,-2030],[0.321,-1020],[0.332,-10],[0.343,500],[0.354,750],[0.371,-10],[0.387,-260],[0.404,500],[0.42,-10],[0.437,100],[0.453,-410],[0.47,-520],[0.487,-260],[0.504,-770],[0.515,-1520],[0.526,-2280],[0.537,-1020],[0.548,-10],[0.559,600],[0.57,500],[0.586,100],[0.603,-110],[0.625,100],[0.647,400],[0.664,-10],[0.681,250],[0.697,500],[0.714,600],[0.73,750],[0.747,900],[0.758,600],[0.775,100],[0.791,-410],[0.808,-820],[0.83,-1120],[0.852,-1020],[0.874,-770],[0.896,-520],[0.924,-260],[0.957,-10],[0.99,200],[1.023,300],[1.057,400],[1.09,250],[1.123,500],[1.156,300],[1.189,400],[1.223,300],[1.256,500],[1.289,300],[1.322,400],[1.355,200],[1.383,400],[1.411,240],[1.438,-260],[1.466,-410],[1.483,250],[1.494,1000],[1.505,1410],[1.516,900],[1.527,-10],[1.538,-920],[1.549,-1020],[1.566,-410],[1.588,100],[1.615,-110],[1.643,-410],[1.671,-110],[1.693,250],[1.715,-260],[1.732,-10],[1.743,500],[1.754,900],[1.765,-110],[1.776,-520],[1.787,-260],[1.804,400],[1.82,900],[1.837,1410],[1.853,1610],[1.87,1760],[1.887,1410],[1.903,1260],[1.92,900],[1.936,250],[1.953,-520],[1.97,-1020],[1.986,-1120],[2.0,-1020]];
const sig32 = [[0.004,-250],[0.015,-750],[0.026,-500],[0.037,500],[0.048,-1500],[0.059,1000],[0.07,1250],[0.081,1000],[0.092,2000],[0.103,2400],[0.114,1500],[0.125,-1500],[0.136,-4000],[0.147,-4000],[0.158,-1500],[0.169,1000],[0.18,2100],[0.191,1750],[0.202,2250],[0.213,750],[0.224,-1500],[0.235,-3100],[0.246,-1500],[0.257,500],[0.268,1000],[0.279,250],[0.29,-1500],[0.301,-3000],[0.312,-2000],[0.323,0],[0.334,1000],[0.345,1100],[0.356,500],[0.367,-500],[0.378,-1500],[0.389,-2250],[0.4,-3100],[0.411,-1500],[0.422,250],[0.433,750],[0.444,1100],[0.455,1750],[0.466,1000],[0.477,-500],[0.488,-2000],[0.499,-3100],[0.51,-3750],[0.521,-4000],[0.532,-2000],[0.543,-3500],[0.554,-1500],[0.565,1500],[0.576,3500],[0.587,3750],[0.598,3000],[0.609,2600],[0.62,2500],[0.631,1100],[0.642,600],[0.653,500],[0.664,750],[0.675,250],[0.686,500],[0.697,-250],[0.708,-500],[0.719,-1500],[0.73,-750],[0.741,250],[0.752,500],[0.763,1000],[0.774,750],[0.785,1100],[0.796,750],[0.807,250],[0.818,500],[0.829,750],[0.84,1250],[0.851,1000],[0.862,600],[0.878,250],[0.894,-250],[0.911,-500],[0.927,-300],[0.949,-100],[0.971,0],[0.998,100],[1.026,200],[1.053,100],[1.081,250],[1.108,200],[1.136,300],[1.163,200],[1.191,300],[1.218,200],[1.245,100],[1.273,200],[1.3,250],[1.327,200],[1.355,250],[1.382,100],[1.41,-100],[1.437,-400],[1.459,-250],[1.481,250],[1.497,500],[1.514,750],[1.53,400],[1.541,1100],[1.552,2250],[1.563,1000],[1.574,0],[1.585,-1000],[1.596,-1750],[1.607,-2600],[1.618,-2000],[1.629,-1000],[1.64,-100],[1.651,500],[1.667,1000],[1.684,1500],[1.695,2250],[1.706,2000],[1.716,1000],[1.727,-250],[1.738,-1500],[1.749,-2250],[1.76,-3250],[1.771,-4000],[1.782,-3250],[1.793,-2000],[1.804,-500],[1.815,500],[1.826,1250],[1.837,2000],[1.848,2250],[1.859,1500],[1.87,2250],[1.881,3000],[1.892,4000],[1.903,3750],[1.914,-1000],[1.925,1000],[1.936,2250],[1.947,2750],[1.958,2000],[1.969,1500],[1.98,1000],[1.996,250],[2.0,100]];

const signals = [
  sig01, sig02, sig03, sig04, sig05, sig06, sig07, sig08,
  sig09, sig10, sig11, sig12, sig13, sig14, sig15, sig16,
  sig17, sig18, sig19, sig20, sig21, sig22, sig23, sig24,
  sig25, sig26, sig27, sig28, sig29, sig30, sig31, sig32,
];

// Panel layout (pixels)
const COLS = 4;
const COL_LEFT = [35, 355, 673, 992];
const PANEL_W = 241;
const ROW_TOP = 10;
const ROW_STEP = 82.7;
const PANEL_H = 53;

const FONT = '"Liberation Sans", Arial, Helvetica, sans-serif';
const BOX = "#8c8c8c";
const TEXT = "#333333";
const TRACE = "#2f86c3";

export default function App() {
  const ref = useRef<HTMLDivElement>(null);

  useEffect(() => {
    if (!ref.current) return;
    const chart = echarts.init(ref.current, null, { renderer: "svg" });

    const grid: any[] = [];
    const xAxis: any[] = [];
    const yAxis: any[] = [];
    const series: any[] = [];
    const tick = { show: true, inside: true, length: 3, lineStyle: { color: BOX, width: 1 } };
    const hiddenLine = { show: false, onZero: false };
    const lastIdx = signals.length - 1;

    signals.forEach((data, i) => {
      const r = Math.floor(i / COLS);
      const c = i % COLS;
      const isLast = i === lastIdx;
      grid.push({
        left: COL_LEFT[c],
        top: ROW_TOP + r * ROW_STEP,
        width: PANEL_W,
        height: PANEL_H,
        show: true,
        borderColor: BOX,
        borderWidth: 1,
        backgroundColor: "#ffffff",
        containLabel: false,
      });
      const timeBase = {
        gridIndex: i,
        type: "value",
        min: timeRange[0],
        max: timeRange[1],
        interval: timeStep,
        axisLine: hiddenLine,
        axisTick: tick,
        splitLine: { show: false },
      };
      xAxis.push({
        ...timeBase,
        position: "bottom",
        axisLabel: {
          show: true,
          fontSize: 9,
          color: TEXT,
          fontFamily: FONT,
          margin: 3,
          formatter: (v: number) => (v === 0 ? "" : String(v)),
        },
        ...(isLast
          ? {
              name: "Time(s)",
              nameLocation: "middle",
              nameGap: 13,
              nameTextStyle: { fontSize: 10, color: TEXT, fontFamily: FONT },
            }
          : {}),
      });
      xAxis.push({ ...timeBase, position: "top", axisLabel: { show: false } });

      const voltBase = {
        gridIndex: i,
        type: "value",
        min: voltRange[0],
        max: voltRange[1],
        interval: voltStep,
        axisLine: hiddenLine,
        axisTick: tick,
        splitLine: { show: false },
      };
      yAxis.push({
        ...voltBase,
        position: "left",
        axisLabel: {
          show: true,
          fontSize: 9,
          color: TEXT,
          fontFamily: FONT,
          margin: 3,
          formatter: (v: number) => String(v),
        },
        ...(isLast
          ? {
              name: "Voltage(uV)",
              nameLocation: "middle",
              nameGap: 26,
              nameRotate: 90,
              nameMoveOverlap: false,
              nameTextStyle: { fontSize: 10, color: TEXT, fontFamily: FONT },
            }
          : {}),
      });
      yAxis.push({ ...voltBase, position: "right", axisLabel: { show: false } });

      series.push({
        type: "line",
        xAxisIndex: 2 * i,
        yAxisIndex: 2 * i,
        data,
        symbol: "none",
        showSymbol: false,
        silent: true,
        clip: true,
        lineStyle: { color: TRACE, width: 0.9 },
      });
    });

    chart.setOption({
      animation: false,
      backgroundColor: "#ffffff",
      grid,
      xAxis,
      yAxis,
      series,
      graphic: [
        {
          type: "text",
          x: COL_LEFT[3] + PANEL_W / 2,
          y: ROW_TOP + 7 * ROW_STEP - 6,
          style: {
            text: "Raw",
            fill: "#111111",
            fontSize: 10,
            fontWeight: "bold",
            fontFamily: FONT,
            align: "center",
            verticalAlign: "middle",
          },
        },
      ],
    });

    return () => chart.dispose();
  }, []);

  return (
    <div
      ref={ref}
      style={{ position: "absolute", left: 0, top: 0, width: 1236, height: 667, background: "#ffffff" }}
    />
  );
}
